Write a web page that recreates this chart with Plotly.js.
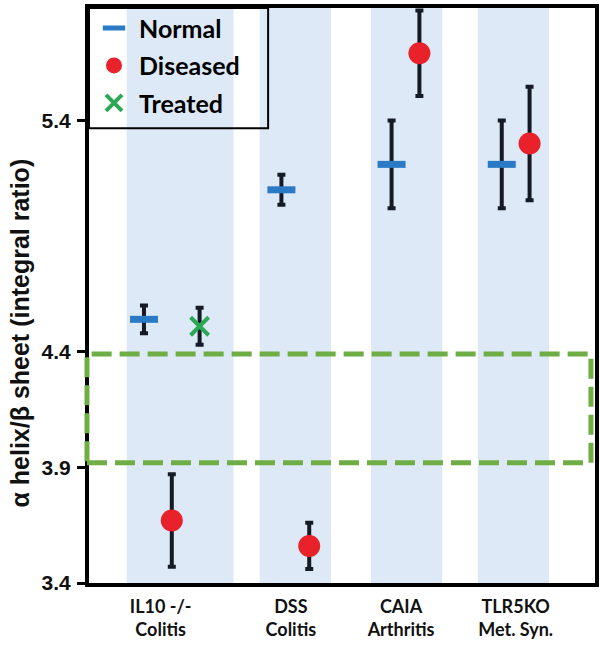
<!DOCTYPE html>
<html>
<head>
<meta charset="utf-8">
<script src="https://cdn.plot.ly/plotly-3.0.1.min.js"></script>
<style>html,body{margin:0;padding:0;background:#fff;}#chart{width:600px;height:650px;}</style>
</head>
<body>
<div id="chart"></div>
<script>
// ---- data ----
const categories = ['IL10 -/-<br>Colitis', 'DSS<br>Colitis', 'CAIA<br>Arthritis', 'TLR5KO<br>Met. Syn.'];
const normalMean = [4.54, 5.10, 5.21, 5.21];
const normalErr = [0.06, 0.065, 0.19, 0.19];
const diseasedMean = [3.67, 3.56, 5.69, 5.30];
const diseasedErr = [0.20, 0.10, 0.185, 0.245];
const treatedCategories = ['IL10 -/-<br>Colitis'];
const treatedMean = [4.51];
const treatedErr = [0.08];
const yTickVals = [3.4, 3.9, 4.4, 5.4];
const yTickText = ['3.4', '3.9', '4.4', '5.4'];
const yTitle = 'α helix/β sheet (integral ratio)';

// ---- layout geometry (positions, not data) ----
const groupShift = [-0.09, 0.02, 0.01, 0.0];
const bandShift = [-0.015, 0.02, 0.02, -0.02];
const labelShift = [-0.19, -0.02, -0.03, 0.0];
const slotGap = 0.25;
const seriesCount = categories.map(c => treatedCategories.includes(c) ? 3 : 2);
function slotX(i, k) { return i + groupShift[i] + (k - (seriesCount[i] - 1) / 2) * slotGap; }

const idx = categories.map((c, i) => i);
const normalX = idx.map(i => slotX(i, 0));
const diseasedX = idx.map(i => slotX(i, 1));
const treatedX = treatedCategories.map(c => slotX(categories.indexOf(c), 2));

const errStyle = {color: '#141a26', thickness: 4, width: 4};

const traces = [
  {x: normalX, y: normalMean, name: 'Normal', type: 'scatter', mode: 'markers', legendgroup: 'a',
   marker: {symbol: 'line-ew', size: 20, color: '#2a7ac6', line: {width: 7, color: '#2a7ac6'}},
   error_y: Object.assign({type: 'data', array: normalErr, visible: true}, errStyle)},
  {x: diseasedX, y: diseasedMean, name: 'Diseased', type: 'scatter', mode: 'markers', legendgroup: 'b',
   marker: {symbol: 'circle', size: 22, color: '#e8212b'},
   error_y: Object.assign({type: 'data', array: diseasedErr, visible: true}, errStyle)},
  {x: treatedX, y: treatedMean, name: 'Treated', type: 'scatter', mode: 'markers', legendgroup: 'c',
   marker: {symbol: 'x-thin-open', size: 18, color: '#2aa854', line: {width: 4, color: '#2aa854'}},
   error_y: Object.assign({type: 'data', array: treatedErr, visible: true}, errStyle)}
];

const shapes = idx.map(i => {
  const half = 0.32 + (seriesCount[i] - 2) * 0.16;
  const c = i + bandShift[i];
  return {type: 'rect', xref: 'x', yref: 'paper', x0: c - half, x1: c + half, y0: 0, y1: 1,
          fillcolor: '#dde9f6', line: {width: 0}, layer: 'below'};
});
shapes.push({type: 'rect', xref: 'paper', yref: 'y', x0: -0.004, x1: 0.992, y0: 3.92, y1: 4.39,
             line: {color: '#6fae45', width: 5, dash: '20px,8px'}, fillcolor: 'rgba(0,0,0,0)', layer: 'above'});
shapes.push({type: 'rect', xref: 'paper', yref: 'paper', x0: 0, x1: 0.354, y0: 0.791, y1: 1,
             line: {color: '#000', width: 2}, fillcolor: 'rgba(0,0,0,0)', layer: 'above'});

const layout = {
  width: 600, height: 650,
  margin: {l: 89, r: 5, t: 5, b: 67},
  paper_bgcolor: '#fff', plot_bgcolor: '#fff',
  showlegend: true,
  legend: {x: 0.0, y: 1.005, xanchor: 'left', yanchor: 'top', bgcolor: 'rgba(0,0,0,0)', borderwidth: 0,
           font: {family: 'Lato', size: 25, color: '#000', weight: 700}, tracegroupgap: 2, itemwidth: 40},
  xaxis: {range: [-0.834, 3.713], tickmode: 'array', tickvals: idx.map(i => i + labelShift[i]), ticktext: categories,
          showgrid: false, zeroline: false, showline: true, linecolor: '#000', linewidth: 4, mirror: true,
          ticks: '', ticklabelstandoff: 4,
          tickfont: {family: 'Lato', size: 18, color: '#111', weight: 700}},
  yaxis: {range: [3.4, 5.886], tickmode: 'array', tickvals: yTickVals, ticktext: yTickText,
          showgrid: false, zeroline: false, showline: true, linecolor: '#000', linewidth: 4, mirror: true,
          ticks: 'outside', ticklen: 8, tickwidth: 3, tickcolor: '#000', ticklabelstandoff: 2,
          tickfont: {family: 'Arial, Liberation Sans', size: 21, color: '#111', weight: 700}},
  annotations: [{text: yTitle, textangle: -90, xref: 'paper', yref: 'paper', x: -0.137, y: 0.435,
                 xanchor: 'center', yanchor: 'middle', showarrow: false,
                 font: {family: 'Arial, Liberation Sans', size: 25, color: '#111', weight: 700}}],
  shapes: shapes
};

Plotly.newPlot('chart', traces, layout, {displayModeBar: false, staticPlot: true});
</script>
</body>
</html>
